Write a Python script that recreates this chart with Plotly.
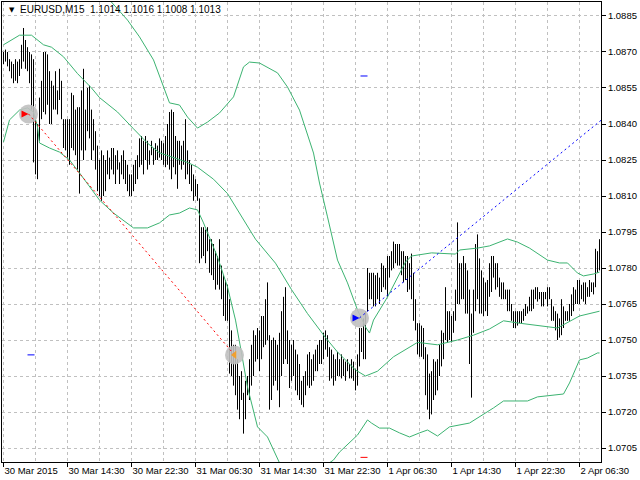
import plotly.graph_objects as go

# EURUSD M15 bars (high / low), one per 15 minutes, starting 30 Mar 2015 06:30
high = [
    1.0870, 1.0871, 1.0870, 1.0867, 1.0866, 1.0865, 1.0867, 1.0866, 1.0867, 1.0873,
    1.0880, 1.0875, 1.0872, 1.0870, 1.0869, 1.0867, 1.0842, 1.0840, 1.0851, 1.0858,
    1.0870, 1.0870, 1.0869, 1.0862, 1.0858, 1.0856, 1.0862, 1.0854, 1.0863, 1.0858,
    1.0842, 1.0842, 1.0842, 1.0842, 1.0853, 1.0852, 1.0846, 1.0847, 1.0847, 1.0854,
    1.0863, 1.0846, 1.0855, 1.0856, 1.0846, 1.0842, 1.0837, 1.0831, 1.0825, 1.0829,
    1.0827, 1.0825, 1.0829, 1.0826, 1.0830, 1.0830, 1.0827, 1.0829, 1.0824, 1.0827,
    1.0829, 1.0825, 1.0823, 1.0819, 1.0819, 1.0823, 1.0825, 1.0827, 1.0834, 1.0835,
    1.0833, 1.0835, 1.0833, 1.0829, 1.0833, 1.0830, 1.0832, 1.0831, 1.0834, 1.0833,
    1.0832, 1.0835, 1.0840, 1.0845, 1.0846, 1.0845, 1.0835, 1.0833, 1.0833, 1.0831,
    1.0833, 1.0842, 1.0829, 1.0825, 1.0823, 1.0819, 1.0817, 1.0815, 1.0809, 1.0797,
    1.0797, 1.0796, 1.0797, 1.0792, 1.0792, 1.0790, 1.0787, 1.0785, 1.0792, 1.0781,
    1.0777, 1.0775, 1.0773, 1.0767, 1.0754, 1.0748, 1.0748, 1.0742, 1.0735, 1.0737,
    1.0728, 1.0733, 1.0735, 1.0742, 1.0748, 1.0754, 1.0752, 1.0755, 1.0754, 1.0760,
    1.0760, 1.0767, 1.0774, 1.0752, 1.0750, 1.0751, 1.0750, 1.0748, 1.0753, 1.0762,
    1.0768, 1.0772, 1.0754, 1.0750, 1.0748, 1.0750, 1.0746, 1.0744, 1.0740, 1.0733,
    1.0735, 1.0737, 1.0744, 1.0745, 1.0742, 1.0744, 1.0746, 1.0748, 1.0750, 1.0750,
    1.0753, 1.0754, 1.0752, 1.0747, 1.0746, 1.0744, 1.0742, 1.0745, 1.0742, 1.0744,
    1.0742, 1.0741, 1.0742, 1.0740, 1.0742, 1.0741, 1.0738, 1.0744, 1.0755, 1.0755,
    1.0759, 1.0762, 1.0780, 1.0778, 1.0778, 1.0778, 1.0777, 1.0778, 1.0776, 1.0782,
    1.0781, 1.0780, 1.0785, 1.0785, 1.0787, 1.0791, 1.0790, 1.0790, 1.0790, 1.0787,
    1.0787, 1.0785, 1.0785, 1.0782, 1.0786, 1.0778, 1.0767, 1.0757, 1.0757, 1.0756,
    1.0755, 1.0747, 1.0744, 1.0736, 1.0737, 1.0742, 1.0741, 1.0742, 1.0748, 1.0754,
    1.0753, 1.0772, 1.0762, 1.0762, 1.0760, 1.0762, 1.0771, 1.0799, 1.0782, 1.0782,
    1.0785, 1.0782, 1.0779, 1.0771, 1.0761, 1.0771, 1.0790, 1.0794, 1.0784, 1.0779,
    1.0776, 1.0774, 1.0775, 1.0782, 1.0785, 1.0785, 1.0782, 1.0782, 1.0776, 1.0774,
    1.0774, 1.0771, 1.0771, 1.0771, 1.0765, 1.0762, 1.0762, 1.0762, 1.0762, 1.0762,
    1.0763, 1.0765, 1.0764, 1.0768, 1.0771, 1.0771, 1.0772, 1.0772, 1.0770, 1.0770,
    1.0770, 1.0770, 1.0772, 1.0772, 1.0767, 1.0764, 1.0762, 1.0761, 1.0759, 1.0767,
    1.0764, 1.0762, 1.0762, 1.0765, 1.0769, 1.0772, 1.0771, 1.0775, 1.0775, 1.0773,
    1.0774, 1.0774, 1.0772, 1.0775, 1.0774, 1.0774, 1.0788, 1.0787, 1.0792,
]
low = [
    1.0865, 1.0866, 1.0864, 1.0862, 1.0859, 1.0857, 1.0858, 1.0857, 1.0860, 1.0863,
    1.0866, 1.0863, 1.0862, 1.0857, 1.0846, 1.0824, 1.0819, 1.0817, 1.0833, 1.0842,
    1.0845, 1.0844, 1.0848, 1.0840, 1.0840, 1.0846, 1.0846, 1.0844, 1.0850, 1.0842,
    1.0830, 1.0829, 1.0826, 1.0823, 1.0830, 1.0829, 1.0827, 1.0821, 1.0811, 1.0829,
    1.0825, 1.0829, 1.0837, 1.0834, 1.0825, 1.0829, 1.0821, 1.0812, 1.0810, 1.0808,
    1.0810, 1.0812, 1.0819, 1.0817, 1.0821, 1.0819, 1.0815, 1.0821, 1.0815, 1.0819,
    1.0817, 1.0815, 1.0812, 1.0810, 1.0810, 1.0812, 1.0815, 1.0817, 1.0822, 1.0823,
    1.0819, 1.0825, 1.0821, 1.0823, 1.0827, 1.0823, 1.0825, 1.0825, 1.0826, 1.0825,
    1.0823, 1.0822, 1.0823, 1.0821, 1.0817, 1.0822, 1.0819, 1.0813, 1.0823, 1.0821,
    1.0823, 1.0817, 1.0819, 1.0815, 1.0812, 1.0808, 1.0810, 1.0808, 1.0782, 1.0784,
    1.0785, 1.0782, 1.0787, 1.0778, 1.0777, 1.0775, 1.0771, 1.0773, 1.0771, 1.0767,
    1.0760, 1.0758, 1.0758, 1.0736, 1.0735, 1.0731, 1.0727, 1.0721, 1.0717, 1.0725,
    1.0711, 1.0717, 1.0727, 1.0725, 1.0731, 1.0735, 1.0741, 1.0742, 1.0737, 1.0742,
    1.0747, 1.0748, 1.0750, 1.0721, 1.0725, 1.0731, 1.0733, 1.0729, 1.0722, 1.0735,
    1.0740, 1.0742, 1.0740, 1.0730, 1.0733, 1.0735, 1.0729, 1.0727, 1.0725, 1.0723,
    1.0722, 1.0727, 1.0731, 1.0730, 1.0731, 1.0733, 1.0737, 1.0737, 1.0740, 1.0740,
    1.0742, 1.0746, 1.0743, 1.0733, 1.0734, 1.0731, 1.0733, 1.0735, 1.0735, 1.0734,
    1.0735, 1.0733, 1.0737, 1.0734, 1.0734, 1.0733, 1.0729, 1.0731, 1.0739, 1.0745,
    1.0742, 1.0742, 1.0762, 1.0767, 1.0767, 1.0764, 1.0764, 1.0767, 1.0765, 1.0770,
    1.0772, 1.0771, 1.0768, 1.0776, 1.0779, 1.0780, 1.0782, 1.0781, 1.0781, 1.0777,
    1.0774, 1.0775, 1.0770, 1.0771, 1.0767, 1.0758, 1.0754, 1.0744, 1.0743, 1.0743,
    1.0742, 1.0727, 1.0721, 1.0717, 1.0719, 1.0725, 1.0727, 1.0729, 1.0735, 1.0739,
    1.0742, 1.0750, 1.0749, 1.0750, 1.0749, 1.0753, 1.0758, 1.0765, 1.0765, 1.0767,
    1.0767, 1.0761, 1.0761, 1.0740, 1.0726, 1.0753, 1.0762, 1.0767, 1.0761, 1.0761,
    1.0760, 1.0762, 1.0760, 1.0768, 1.0770, 1.0776, 1.0771, 1.0772, 1.0768, 1.0767,
    1.0767, 1.0767, 1.0762, 1.0762, 1.0758, 1.0755, 1.0755, 1.0756, 1.0757, 1.0757,
    1.0758, 1.0760, 1.0761, 1.0762, 1.0762, 1.0763, 1.0767, 1.0766, 1.0767, 1.0764,
    1.0764, 1.0767, 1.0764, 1.0767, 1.0758, 1.0758, 1.0754, 1.0750, 1.0751, 1.0752,
    1.0755, 1.0758, 1.0758, 1.0758, 1.0760, 1.0762, 1.0765, 1.0765, 1.0765, 1.0767,
    1.0766, 1.0765, 1.0768, 1.0768, 1.0770, 1.0769, 1.0772, 1.0778, 1.0779,
]

# bands (bar index, price)
up_idx = [0, 24, 48, 53, 62, 68, 75, 80, 83, 88, 92, 97, 102, 108, 115, 120, 123, 128, 137, 142,
          148, 155, 158, 162, 167, 172, 177, 181, 183, 185, 192, 201, 204, 214, 226, 228, 237, 243,
          252, 257, 263, 272, 278, 282, 287, 290, 295, 298]
up_val = [1.0913, 1.0914, 1.0896, 1.08917, 1.08833, 1.08763, 1.08667, 1.08554, 1.08488, 1.08479,
          1.08429, 1.08383, 1.08408, 1.08446, 1.08513, 1.08638, 1.08658, 1.08654, 1.08613, 1.08554,
          1.08458, 1.08279, 1.08154, 1.08013, 1.07833, 1.07738, 1.07625, 1.07554, 1.07529, 1.07583,
          1.07679, 1.07825, 1.0785, 1.07863, 1.07858, 1.07875, 1.07883, 1.07892, 1.07921, 1.07908,
          1.07883, 1.07833, 1.07821, 1.07821, 1.07779, 1.07767, 1.07775, 1.07783]
mid_idx = [0, 8, 14, 20, 24, 30, 37, 44, 48, 57, 65, 72, 78, 85, 92, 97, 105, 112, 118, 126,
           136, 144, 152, 161, 167, 176, 181, 187, 195, 207, 217, 227, 235, 243, 250, 258, 277, 288, 298]
mid_val = [1.0873, 1.0877, 1.0877, 1.0873, 1.0872, 1.0868, 1.0861, 1.0855, 1.0851, 1.0845,
           1.0838, 1.0832, 1.0828, 1.0826, 1.0824, 1.0822, 1.0817, 1.0811, 1.0803, 1.0792,
           1.0782, 1.0771, 1.0761, 1.0751, 1.0745, 1.07375, 1.0735, 1.0737, 1.0743, 1.0749,
           1.0748, 1.0750, 1.0752, 1.07546, 1.0758, 1.0757, 1.0755, 1.0760, 1.0762]
lo_idx = [0, 3, 8, 12, 15, 17, 18, 23, 28, 33, 38, 43, 48, 55, 62, 65, 72, 78, 83, 88,
          93, 97, 100, 103, 107, 112, 116, 119, 122, 127, 132, 138, 146, 153, 165, 168, 177, 182, 184, 188,
          193, 198, 203, 208, 212, 217, 223, 233, 238, 245, 250, 262, 267, 275, 280, 283, 288, 292, 293, 297, 298]
lo_val = [1.08325, 1.08417, 1.08458, 1.08467, 1.0845, 1.08388, 1.08321, 1.083, 1.08283, 1.0825,
          1.08196, 1.08138, 1.08083, 1.08029, 1.07988, 1.07967, 1.07967, 1.07988, 1.08021, 1.08029,
          1.0805, 1.08042, 1.07988, 1.07929, 1.07846, 1.07721, 1.07583, 1.07446, 1.07304, 1.07138,
          1.07096, 1.06988, 1.0690, 1.0693, 1.0700, 1.07033, 1.07104, 1.07167, 1.07154, 1.07133,
          1.07133, 1.07113, 1.07096, 1.07113, 1.07125, 1.071, 1.07138, 1.07154, 1.07179, 1.07217,
          1.07246, 1.07246, 1.07263, 1.07271, 1.07275, 1.07321, 1.07417, 1.07425, 1.07429, 1.07446, 1.07446]

# trade arrows
sell_line_x = [12.5, 115.5]
sell_line_y = [1.08442, 1.07438]
buy_line_x = [178, 299]
buy_line_y = [1.07592, 1.08417]
signal_x = [12.5, 115.5, 178]
signal_y = [1.08442, 1.07438, 1.07592]

x_labels = ["30 Mar 2015", "30 Mar 14:30", "30 Mar 22:30", "31 Mar 06:30", "31 Mar 14:30",
            "31 Mar 22:30", "1 Apr 06:30", "1 Apr 14:30", "1 Apr 22:30", "2 Apr 06:30"]

header = "EURUSD,M15  1.1014 1.1016 1.1008 1.1013"

FONT = "Liberation Sans"
GRID = "#c0c0c0"
BAND = "#3cb371"

# bars as vertical high-low strokes
bx, by = [], []
for i in range(len(high)):
    bx += [i, i, None]
    by += [low[i], high[i], None]

fig = go.Figure()
fig.add_trace(go.Scatter(x=bx, y=by, mode="lines", line=dict(color="black", width=1),
                         hoverinfo="skip"))

for xs, ys in [(up_idx, up_val), (mid_idx, mid_val), (lo_idx, lo_val)]:
    fig.add_trace(go.Scatter(x=xs, y=ys, mode="lines", line=dict(color=BAND, width=1)))

# grey halos behind the arrows
fig.add_trace(go.Scatter(x=signal_x, y=signal_y, mode="markers",
                         marker=dict(size=19, color="#c0c0c0", opacity=0.9)))

fig.add_trace(go.Scatter(x=sell_line_x, y=sell_line_y, mode="lines",
                         line=dict(color="red", width=1, dash="2px,3px")))
fig.add_trace(go.Scatter(x=buy_line_x, y=buy_line_y, mode="lines",
                         line=dict(color="blue", width=1, dash="2px,3px")))

# small level dashes
fig.add_trace(go.Scatter(x=[178.5, 182], y=[1.0860, 1.0860], mode="lines",
                         line=dict(color="blue", width=1)))
fig.add_trace(go.Scatter(x=[12, 15.5], y=[1.07438, 1.07438], mode="lines",
                         line=dict(color="blue", width=1)))
fig.add_trace(go.Scatter(x=[178.5, 182], y=[1.07011, 1.07011], mode="lines",
                         line=dict(color="red", width=1)))

fig.add_trace(go.Scatter(x=signal_x, y=signal_y, mode="markers",
                         marker=dict(size=7, color=["red", "#f0a030", "blue"],
                                     symbol=["arrow-right", "triangle-left", "arrow-right"],
                                     line=dict(width=0))))

fig.add_annotation(xref="paper", yref="paper", x=0.008, y=0.983, xanchor="left", yanchor="middle",
                   text="▼", showarrow=False, font=dict(family="DejaVu Sans", size=7, color="black"))
fig.add_annotation(xref="paper", yref="paper", x=0.026, y=0.983, xanchor="left", yanchor="middle",
                   text=header, showarrow=False, font=dict(family=FONT, size=10, color="black"))

fig.update_layout(
    width=640, height=480,
    margin=dict(l=2, r=39, t=2, b=18),
    paper_bgcolor="white", plot_bgcolor="white",
    showlegend=False,
    font=dict(family=FONT, size=9, color="black"),
    xaxis=dict(range=[-0.75, 298.75], tickvals=list(range(0, 299, 32)), ticktext=x_labels,
               ticks="outside", ticklen=4, tickcolor="black", ticklabelposition="outside right",
               tickangle=0,
               showgrid=True, gridcolor=GRID, griddash="3px,3px", gridwidth=1,
               minor=dict(tickvals=list(range(16, 299, 32)), showgrid=True, gridcolor=GRID,
                          griddash="3px,3px", ticks=""),
               showline=True, linecolor="black", linewidth=1, mirror=True,
               zeroline=False, automargin=False, tickfont=dict(size=9.5)),
    yaxis=dict(range=[1.069917, 1.089083], side="right", tick0=1.0705, dtick=0.0015,
               tickformat=".4f", ticks="outside", ticklen=4, tickcolor="black",
               showgrid=True, gridcolor=GRID, griddash="3px,3px", gridwidth=1,
               showline=True, linecolor="black", linewidth=1, mirror=True,
               zeroline=False, automargin=False, tickfont=dict(size=9.5)),
)

# the page body has a default margin; drop it so the chart sits at the window corner
fig.write_html("out.html", config={"displayModeBar": False},
               post_script="document.body.style.margin='0px';")
